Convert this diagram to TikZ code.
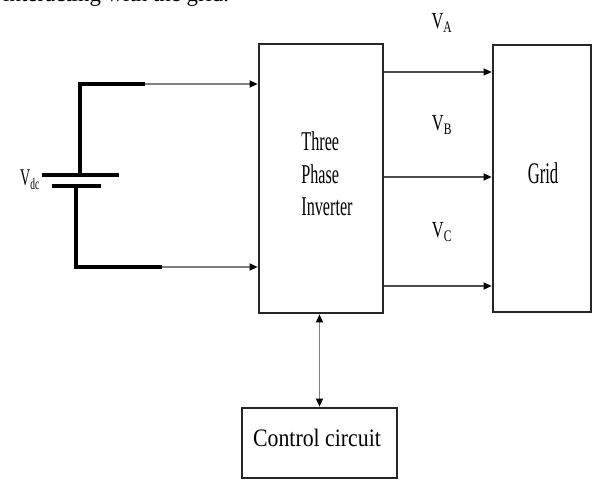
\documentclass[tikz,border=0pt]{standalone}
\usepackage{fontspec}
\setmainfont{Liberation Serif}
\usetikzlibrary{arrows.meta}
\tikzset{
  blockbox/.style={draw=black!85, line width=2.2pt, inner sep=0pt},
  phaseline/.style={black!70, line width=1.4pt, -{Triangle[length=7pt,width=6pt,color=black]}},
  feedline/.style={black!50, line width=1.4pt, -{Triangle[length=7pt,width=6pt,color=black]}},
  plate/.style={black, line width=3.6pt},
  squeezed/.style={transform shape, yscale=#1, inner sep=0pt}
}

\begin{document}
\begin{tikzpicture}[x=0.03cm,y=0.03cm]
\clip (0,0) rectangle (594,479);
% caption line cut off by the page
\node[anchor=base west, inner sep=0pt, font=\fontsize{19.5}{20}\selectfont] (caption) at (3,477) {interacting with the grid.};

% blocks
\node[blockbox, minimum width=3.72cm, minimum height=8.07cm] (inv) at (321,300.5) {};
\node[blockbox, minimum width=2.94cm, minimum height=8.01cm] (grid) at (542,300.5) {};
\node[blockbox, minimum width=4.65cm, minimum height=2.1cm] (ctrl) at (319.5,36) {};

\node[squeezed=1.68, align=left, font=\fontsize{13.8}{16.5}\selectfont] (invtxt) at (327,305) {Three\\Phase\\Inverter};
\node[squeezed=1.8, font=\fontsize{14.2}{16}\selectfont] (gridtxt) at (543,306) {Grid};
\node[squeezed=1.15, font=\fontsize{18.6}{20}\selectfont] (ctrltxt) at (317,41) {Control circuit};

% dc source
\draw[plate] (145,395) -- (80,395) -- (80,305);
\draw[plate] (42,304) -- (119,304);
\draw[plate] (52,293) -- (101,293);
\draw[plate] (76,293) -- (76,212) -- (162,212);
\coordinate (plus) at (145,395);
\coordinate (minus) at (162,212);
\node[squeezed=1.7, font=\fontsize{12}{14}\selectfont] (vdc) at (30,299) {V\textsubscript{dc}};

\draw[feedline] (plus) -- (inv.west |- plus);
\draw[feedline] (minus) -- (inv.west |- minus);

% three phases
\coordinate (pa) at (0,407);
\coordinate (pb) at (0,302);
\coordinate (pc) at (0,193);
\draw[phaseline] (inv.east |- pa) -- (grid.west |- pa);
\draw[phaseline] (inv.east |- pb) -- (grid.west |- pb);
\draw[phaseline] (inv.east |- pc) -- (grid.west |- pc);
\node[squeezed=1.4, font=\fontsize{14}{16}\selectfont] (va) at (442,456) {V\textsubscript{A}};
\node[squeezed=1.4, font=\fontsize{14}{16}\selectfont] (vb) at (442,354) {V\textsubscript{B}};
\node[squeezed=1.4, font=\fontsize{14}{16}\selectfont] (vc) at (442,247) {V\textsubscript{C}};

% control link
\draw[feedline, {Triangle[length=7pt,width=6pt,color=black]}-{Triangle[length=7pt,width=6pt,color=black]}] (ctrl.north) -- (ctrl.north |- inv.south);
\end{tikzpicture}
\end{document}
